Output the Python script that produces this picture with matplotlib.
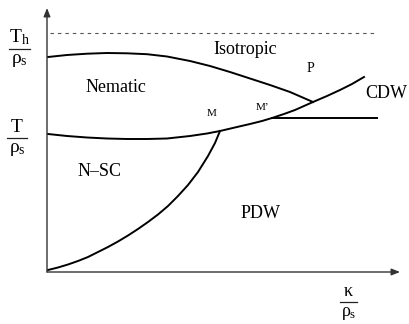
"""
Diagrama de fases esquematico (kappa/rho_s vs T/rho_s).
"""

import matplotlib
matplotlib.use("Agg")
import matplotlib.pyplot as plt

plt.rcParams["font.family"] = ["Liberation Serif", "DejaVu Serif"]
plt.rcParams["mathtext.fontset"] = "custom"
plt.rcParams["mathtext.rm"] = "Liberation Serif"
plt.rcParams["mathtext.it"] = "Liberation Serif"

# curva Nematic / Isotropic (hasta el punto P)
upper_x = [1, 20, 40, 60, 80, 100, 120, 143, 163, 183, 203, 223, 243, 266]
upper_y = [215, 217, 218.3, 219, 218.7, 217.8, 215.5, 211, 206, 200, 193.5, 187, 180, 170]

# curva Nematic / N-SC que sigue hasta CDW
lower_x = [1, 20, 40, 60, 80, 100, 120, 143, 160, 173, 190, 203, 215, 225, 237, 248, 257,
           266, 280, 293, 305, 317]
lower_y = [138, 136, 134.5, 133.5, 133, 133, 133.5, 136, 138.5, 141, 145, 148, 151, 154, 158,
           162, 166, 170, 176, 182, 188, 195]

# frontera N-SC / PDW (desde el origen hasta M)
pdw_x = [1, 11, 21, 31, 41, 51, 61, 71, 81, 91, 101, 111, 121, 131, 141, 151, 161, 168, 173]
pdw_y = [2, 4.5, 7.5, 11, 15, 20, 25, 30.5, 36.5, 43, 50, 57.5, 66, 76, 87, 100, 116, 129, 141]

# linea horizontal desde M'
cdw_x = [225, 330]
cdw_y = [154, 154]

# T_h / rho_s (linea punteada)
th_x = [3, 328]
th_y = [239, 239]

regions = ["Isotropic", "Nematic", "CDW", "N\u2013SC", "PDW"]
region_xy = [(198, 223), (69, 184), (339, 178), (53, 101), (214, 58)]
points = ["P", "M", "M\u2019"]
points_xy = [(263, 203), (165, 159), (215, 165)]
point_size = [10, 8, 8]

# etiquetas de eje como fracciones: numerador, denominador
frac_num = [r"$\mathrm{T_h}$", r"$\mathrm{T}$", r"$\kappa$"]
frac_den = [r"$\rho_\mathrm{s}$", r"$\rho_\mathrm{s}$", r"$\rho_\mathrm{s}$"]
frac_x = [-27.5, -30, 301.5]
frac_y = [223, 134, -30]
frac_w = [21, 20, 17]
frac_size = [14, 14, 13]

fig = plt.figure(figsize=(4.09, 3.24), dpi=100)
ax = fig.add_axes([0, 0, 1, 1])
ax.set_xlim(-47, 362)
ax.set_ylim(-52, 272)
ax.axis("off")

# ejes con flecha
arrow = dict(arrowstyle="-|>,head_length=0.5,head_width=0.2", color="#333333", lw=1.0,
             shrinkA=0, shrinkB=0)
ax.annotate("", xy=(0, 264), xytext=(0, 0), arrowprops=arrow)
ax.annotate("", xy=(353, 0), xytext=(0, 0), arrowprops=arrow)

ax.plot(th_x, th_y, color="#555555", lw=0.8, dashes=(3.1, 3.6))
ax.plot(upper_x, upper_y, "k-", lw=1.4)
ax.plot(lower_x, lower_y, "k-", lw=1.4)
ax.plot(pdw_x, pdw_y, "k-", lw=1.4)
ax.plot(cdw_x, cdw_y, "k-", lw=1.4)

for name, (x, y) in zip(regions, region_xy):
    ax.text(x, y, name, fontsize=13, ha="center", va="center")
for name, (x, y), fs in zip(points, points_xy, point_size):
    ax.text(x, y, name, fontsize=fs, ha="center", va="center")

for num, den, x, y, w, fs in zip(frac_num, frac_den, frac_x, frac_y, frac_w, frac_size):
    ax.plot([x - w / 2, x + w / 2], [y, y], color="#222222", lw=0.9)
    ax.text(x, y + 2, num, fontsize=fs, ha="center", va="bottom")
    ax.text(x, y - 3, den, fontsize=fs, ha="center", va="top")

fig.savefig("out.png", dpi=100)
